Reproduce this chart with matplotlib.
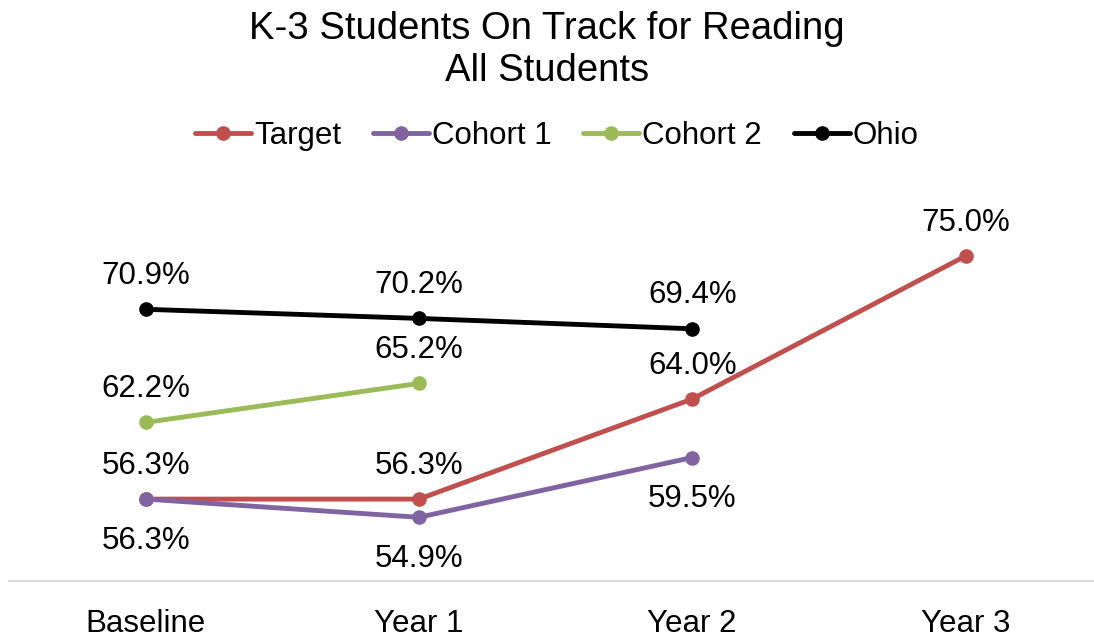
import numpy as np
import matplotlib.pyplot as plt

categories = ["Baseline", "Year 1", "Year 2", "Year 3"]
target = [56.3, 56.3, 64.0, 75.0]
cohort1 = [56.3, 54.9, 59.5, np.nan]
cohort2 = [62.2, 65.2, np.nan, np.nan]
ohio = [70.9, 70.2, 69.4, np.nan]

series = [
    ("Target", target, "#C0504D", 24),
    ("Cohort 1", cohort1, "#8064A2", -30),
    ("Cohort 2", cohort2, "#9BBB59", 24),
    ("Ohio", ohio, "#000000", 24),
]

plt.rcParams["font.family"] = ["Liberation Sans", "DejaVu Sans"]

fig = plt.figure(figsize=(10.94, 6.37), dpi=100)
ax = fig.add_axes([9 / 1094, 56 / 637, 1085 / 1094, 390 / 637])

x = np.arange(len(categories))
for name, vals, color, offset in series:
    ax.plot(x, vals, color=color, lw=3.5, marker="o", ms=9.5, label=name,
            solid_capstyle="round")
    for xi, v in zip(x, vals):
        if np.isnan(v):
            continue
        ax.annotate(f"{v:.1f}%", (xi, v), xytext=(0, offset),
                    textcoords="offset points", ha="center", va="center",
                    fontsize=22.5)

ax.set_xlim(-0.5, 3.47)
ax.set_ylim(50, 80)
ax.set_xticks(x)
ax.set_xticklabels(categories, fontsize=22.5)
ax.tick_params(axis="x", length=0, pad=20)
ax.set_yticks([])
for s in ["top", "right", "left"]:
    ax.spines[s].set_visible(False)
ax.spines["bottom"].set_color("#D9D9D9")
ax.spines["bottom"].set_linewidth(1.5)

fig.text(0.5, 1 - 11 / 637, "K-3 Students On Track for Reading\nAll Students",
         ha="center", va="top", fontsize=27.5, linespacing=1.2)

fig.legend(loc="center", bbox_to_anchor=(557 / 1094, 1 - 136 / 637),
           ncol=4, frameon=False, fontsize=22.5, handlelength=1.8,
           handletextpad=0.1, columnspacing=1.0, borderpad=0)

fig.savefig("out.png", dpi=100)
